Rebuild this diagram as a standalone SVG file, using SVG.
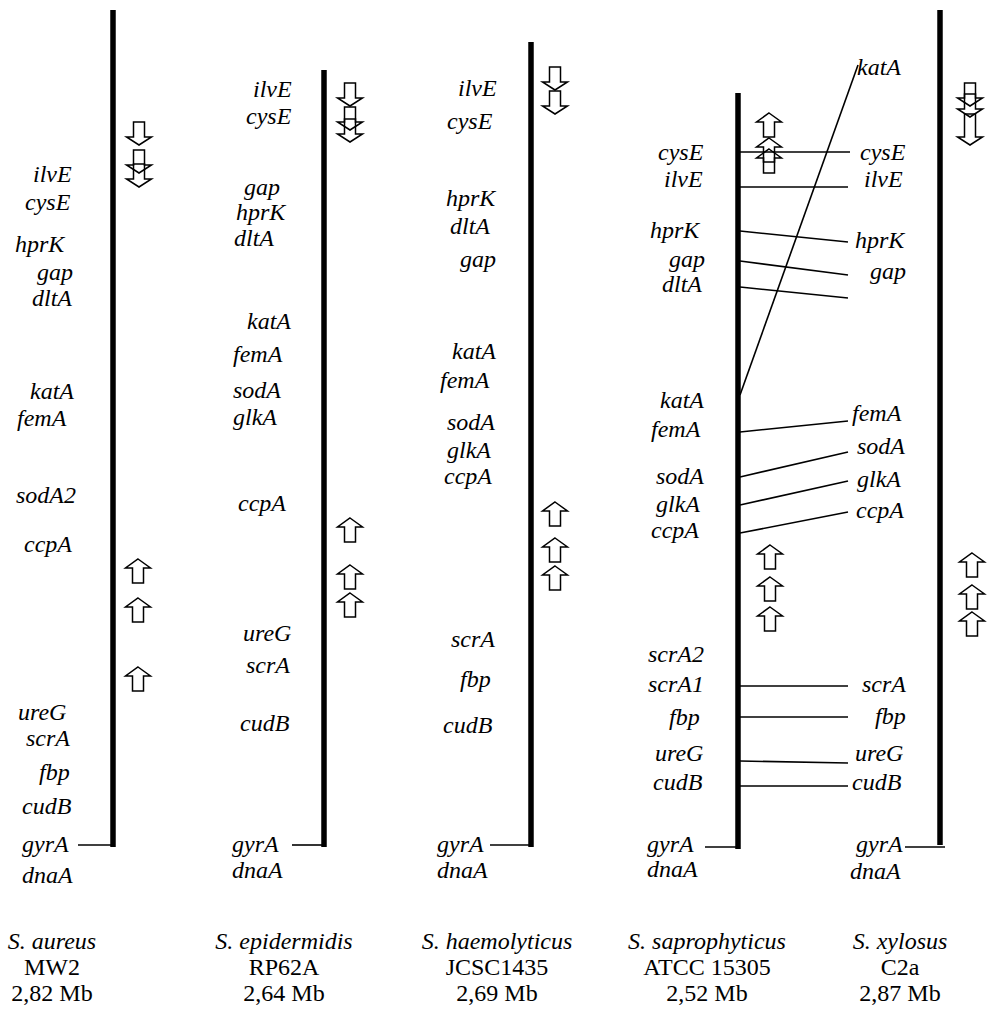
<svg xmlns="http://www.w3.org/2000/svg" width="988" height="1023" viewBox="0 0 988 1023">
  <style>
    .gene { font-family: "Liberation Serif", "Times New Roman", serif; font-style: italic; font-size: 24px; fill: #000; }
    .cap { font-family: "Liberation Serif", "Times New Roman", serif; font-size: 24px; fill: #000; text-anchor: middle; }
    .sp { font-style: italic; }
    .chrom { stroke: #000; stroke-width: 5.5; fill: none; }
    .link { stroke: #000; stroke-width: 1.6; fill: none; }
    .arr { stroke: #000; stroke-width: 1.5; fill: none; stroke-linejoin: miter; }
  </style>
  <defs>
    <!-- down-pointing block arrow, top of shaft at origin -->
    <path id="dn" class="arr" d="M-5.5,0 H5.5 V15 H12.5 L0,23 L-12.5,15 H-5.5 Z"/>
    <!-- longer down-pointing block arrow -->
    <path id="dnLong" class="arr" d="M-5.5,0 H5.5 V23 H12.5 L0,31 L-12.5,23 H-5.5 Z"/>
    <!-- up-pointing block arrow, tip at origin -->
    <path id="up" class="arr" d="M0,0 L12.5,9 H5.5 V24 H-5.5 V9 H-12.5 Z"/>
  </defs>
  <rect width="988" height="1023" fill="#fff"/>

  <!-- S. aureus MW2 -->
  <g id="aureus">
    <line class="chrom" x1="113" y1="10" x2="113" y2="847"/>
    <line class="link" x1="78" y1="845" x2="113" y2="845"/>
    <use href="#dn" x="139" y="122"/>
    <use href="#dn" x="139" y="150"/>
    <use href="#dn" x="139" y="164"/>
    <use href="#up" x="138" y="559"/>
    <use href="#up" x="138" y="598"/>
    <use href="#up" x="138" y="667"/>
    <text class="gene" x="33" y="182">ilvE</text>
    <text class="gene" x="25" y="210">cysE</text>
    <text class="gene" x="15" y="252">hprK</text>
    <text class="gene" x="37" y="280">gap</text>
    <text class="gene" x="32" y="306">dltA</text>
    <text class="gene" x="30" y="399">katA</text>
    <text class="gene" x="17" y="426">femA</text>
    <text class="gene" x="16" y="503">sodA2</text>
    <text class="gene" x="24" y="552">ccpA</text>
    <text class="gene" x="18" y="720">ureG</text>
    <text class="gene" x="26" y="746">scrA</text>
    <text class="gene" x="39" y="780">fbp</text>
    <text class="gene" x="22" y="814">cudB</text>
    <text class="gene" x="22" y="852">gyrA</text>
    <text class="gene" x="22" y="883">dnaA</text>
    <text class="cap sp" x="52" y="949">S. aureus</text>
    <text class="cap" x="52" y="975">MW2</text>
    <text class="cap" x="52" y="1001">2,82 Mb</text>
  </g>

  <!-- S. epidermidis RP62A -->
  <g id="epidermidis">
    <line class="chrom" x1="324" y1="70" x2="324" y2="847"/>
    <line class="link" x1="292" y1="845" x2="324" y2="845"/>
    <use href="#dn" x="350" y="83"/>
    <use href="#dn" x="350" y="107"/>
    <use href="#dn" x="350" y="119"/>
    <use href="#up" x="350" y="518"/>
    <use href="#up" x="350" y="565"/>
    <use href="#up" x="350" y="593"/>
    <text class="gene" x="253" y="97">ilvE</text>
    <text class="gene" x="246" y="124">cysE</text>
    <text class="gene" x="244" y="195">gap</text>
    <text class="gene" x="236" y="220">hprK</text>
    <text class="gene" x="234" y="246">dltA</text>
    <text class="gene" x="247" y="329">katA</text>
    <text class="gene" x="233" y="362">femA</text>
    <text class="gene" x="233" y="398">sodA</text>
    <text class="gene" x="233" y="425">glkA</text>
    <text class="gene" x="238" y="511">ccpA</text>
    <text class="gene" x="243" y="641">ureG</text>
    <text class="gene" x="246" y="673">scrA</text>
    <text class="gene" x="240" y="731">cudB</text>
    <text class="gene" x="232" y="852">gyrA</text>
    <text class="gene" x="232" y="878">dnaA</text>
    <text class="cap sp" x="284" y="949">S. epidermidis</text>
    <text class="cap" x="284" y="975">RP62A</text>
    <text class="cap" x="284" y="1001">2,64 Mb</text>
  </g>

  <!-- S. haemolyticus JCSC1435 -->
  <g id="haemolyticus">
    <line class="chrom" x1="531" y1="42" x2="531" y2="847"/>
    <line class="link" x1="490" y1="845" x2="531" y2="845"/>
    <use href="#dn" x="555" y="67"/>
    <use href="#dn" x="555" y="91"/>
    <use href="#up" x="555" y="502"/>
    <use href="#up" x="555" y="538"/>
    <use href="#up" x="555" y="566"/>
    <text class="gene" x="458" y="96">ilvE</text>
    <text class="gene" x="447" y="129">cysE</text>
    <text class="gene" x="446" y="206">hprK</text>
    <text class="gene" x="450" y="234">dltA</text>
    <text class="gene" x="460" y="267">gap</text>
    <text class="gene" x="452" y="359">katA</text>
    <text class="gene" x="440" y="388">femA</text>
    <text class="gene" x="447" y="430">sodA</text>
    <text class="gene" x="447" y="458">glkA</text>
    <text class="gene" x="444" y="484">ccpA</text>
    <text class="gene" x="451" y="647">scrA</text>
    <text class="gene" x="460" y="687">fbp</text>
    <text class="gene" x="443" y="733">cudB</text>
    <text class="gene" x="437" y="852">gyrA</text>
    <text class="gene" x="437" y="878">dnaA</text>
    <text class="cap sp" x="497" y="949">S. haemolyticus</text>
    <text class="cap" x="497" y="975">JCSC1435</text>
    <text class="cap" x="497" y="1001">2,69 Mb</text>
  </g>

  <!-- S. saprophyticus ATCC 15305 -->
  <g id="saprophyticus">
    <line class="chrom" x1="738" y1="93" x2="738" y2="849"/>
    <line class="link" x1="705" y1="847" x2="738" y2="847"/>
    <use href="#up" x="769" y="113"/>
    <use href="#up" x="769" y="138"/>
    <use href="#up" x="769" y="149"/>
    <use href="#up" x="770" y="545"/>
    <use href="#up" x="770" y="577"/>
    <use href="#up" x="770" y="607"/>
    <text class="gene" x="658" y="160">cysE</text>
    <text class="gene" x="664" y="187">ilvE</text>
    <text class="gene" x="650" y="238">hprK</text>
    <text class="gene" x="669" y="267">gap</text>
    <text class="gene" x="662" y="292">dltA</text>
    <text class="gene" x="660" y="408">katA</text>
    <text class="gene" x="651" y="437">femA</text>
    <text class="gene" x="656" y="484">sodA</text>
    <text class="gene" x="656" y="512">glkA</text>
    <text class="gene" x="651" y="538">ccpA</text>
    <text class="gene" x="648" y="662">scrA2</text>
    <text class="gene" x="648" y="692">scrA1</text>
    <text class="gene" x="669" y="725">fbp</text>
    <text class="gene" x="655" y="761">ureG</text>
    <text class="gene" x="653" y="790">cudB</text>
    <text class="gene" x="647" y="852">gyrA</text>
    <text class="gene" x="647" y="877">dnaA</text>
    <text class="cap sp" x="707" y="949">S. saprophyticus</text>
    <text class="cap" x="707" y="975">ATCC  15305</text>
    <text class="cap" x="707" y="1001">2,52 Mb</text>
  </g>

  <!-- S. xylosus C2a -->
  <g id="xylosus">
    <line class="chrom" x1="940" y1="10" x2="940" y2="845"/>
    <line class="link" x1="905" y1="847" x2="945" y2="847"/>
    <use href="#dn" x="970" y="83"/>
    <use href="#dn" x="970" y="94"/>
    <use href="#dnLong" x="970" y="114"/>
    <use href="#up" x="972" y="553"/>
    <use href="#up" x="972" y="585"/>
    <use href="#up" x="972" y="612"/>
    <text class="gene" x="857" y="75">katA</text>
    <text class="gene" x="860" y="160">cysE</text>
    <text class="gene" x="864" y="187">ilvE</text>
    <text class="gene" x="855" y="248">hprK</text>
    <text class="gene" x="870" y="279">gap</text>
    <text class="gene" x="852" y="421">femA</text>
    <text class="gene" x="857" y="454">sodA</text>
    <text class="gene" x="857" y="487">glkA</text>
    <text class="gene" x="856" y="518">ccpA</text>
    <text class="gene" x="862" y="692">scrA</text>
    <text class="gene" x="875" y="724">fbp</text>
    <text class="gene" x="855" y="761">ureG</text>
    <text class="gene" x="852" y="790">cudB</text>
    <text class="gene" x="856" y="852">gyrA</text>
    <text class="gene" x="850" y="879">dnaA</text>
    <text class="cap sp" x="900" y="949">S. xylosus</text>
    <text class="cap" x="900" y="975">C2a</text>
    <text class="cap" x="900" y="1001">2,87 Mb</text>
  </g>

  <!-- synteny links between S. saprophyticus and S. xylosus -->
  <g id="connectors">
    <line class="link" x1="740" y1="152" x2="850" y2="152"/>
    <line class="link" x1="740" y1="187" x2="848" y2="187"/>
    <line class="link" x1="740" y1="231" x2="848" y2="242"/>
    <line class="link" x1="740" y1="261" x2="848" y2="275"/>
    <line class="link" x1="740" y1="287" x2="848" y2="298"/>
    <line class="link" x1="740" y1="395" x2="858" y2="65"/>
    <line class="link" x1="740" y1="432" x2="848" y2="421"/>
    <line class="link" x1="740" y1="477" x2="848" y2="452"/>
    <line class="link" x1="740" y1="505" x2="848" y2="481"/>
    <line class="link" x1="740" y1="533" x2="848" y2="512"/>
    <line class="link" x1="740" y1="686" x2="848" y2="686"/>
    <line class="link" x1="740" y1="717" x2="848" y2="717"/>
    <line class="link" x1="740" y1="761" x2="848" y2="763"/>
    <line class="link" x1="740" y1="786" x2="848" y2="786"/>
  </g>
</svg>
